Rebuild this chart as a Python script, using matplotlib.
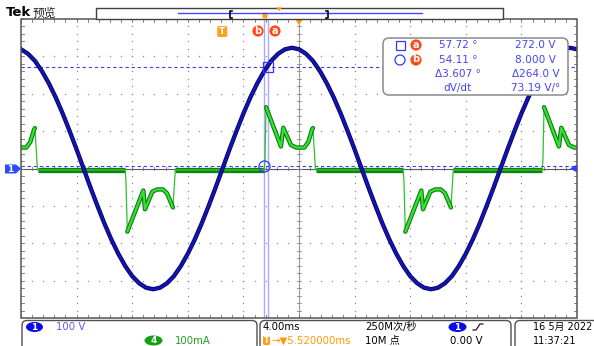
import numpy as np
import matplotlib
matplotlib.use("Agg")
import matplotlib.pyplot as plt
from matplotlib.patches import FancyBboxPatch, Rectangle, Polygon, Ellipse, Circle

plt.rcParams['font.family'] = ['DejaVu Sans', 'Noto Sans CJK SC']

# ---------------- data (read from the screen) ----------------
# channel 1 voltage samples every 0.5 ms, from -20 ms to +20 ms
t_ms = np.linspace(-20, 20, 81)
ch1_volts = [319, 307, 288, 261, 228, 190, 147, 100, 51, 0,
             -51, -100, -147, -190, -228, -261, -288, -307, -319, -323,
             -319, -307, -288, -261, -228, -190, -147, -100, -51, 0,
             51, 100, 147, 190, 228, 261, 288, 307, 319, 323,
             319, 307, 288, 261, 228, 190, 147, 100, 51, 0,
             -51, -100, -147, -190, -228, -261, -288, -307, -319, -323,
             -319, -307, -288, -261, -228, -190, -147, -100, -51, 0,
             51, 100, 147, 190, 228, 261, 288, 307, 319, 323,
             319]
# channel 4 current pulses (time from pulse start in ms, current in mA)
pos_pulse_dt = [0, 0.05, 0.13, 1.2, 1.37, 1.92, 2.3, 2.88, 3.17, 3.43, 3.5, 3.68, 3.72]
pos_pulse_mA = [0, 30, 168, 63, 113, 67, 60, 60, 75, 107, 112, 5, 0]
neg_pulse_dt = [0, 0.05, 0.15, 1.3, 1.42, 1.95, 2.3, 2.7, 3.0, 3.43, 3.6]
neg_pulse_mA = [0, -30, -165, -55, -105, -58, -52, -52, -62, -100, 0]
pos_starts_ms = [-22.5, -2.5, 17.5]
neg_starts_ms = [-12.5, 7.5]

ch1_scale_V = 100.0      # V/div
ch4_scale_mA = 100.0     # mA/div
ch4_offset_div = -0.04
trig_pos_ms = -5.52
cursor_a_ms, cursor_b_ms = -2.25, -2.514
cursor_a_V, cursor_b_V = 272.0, 8.0

meas_rows = [("57.72 °", "272.0 V"), ("54.11 °", "8.000 V"),
             ("Δ3.607 °", "Δ264.0 V"), ("dV/dt", "73.19 V/°")]

# ---------------- figure ----------------
W, H = 594, 346
fig = plt.figure(figsize=(W / 100, H / 100), dpi=100)
fig.patch.set_facecolor('white')

L, R, T, B = 21, 577, 19, 318
ax = fig.add_axes([L / W, (H - B) / H, (R - L) / W, (B - T) / H], zorder=1)
ax.set_xlim(-20, 20)
ax.set_ylim(-4, 4)
ax.axis('off')

grid_c = '#8c8c8c'
# dotted graticule
for k in range(-4, 5):
    if k == 0:
        continue
    xs = np.full(41, k * 4.0)
    ys = np.linspace(-4, 4, 41)
    ax.plot(xs, ys, ls='none', marker='s', ms=0.9, mew=0, color=grid_c)
for k in range(-3, 4):
    if k == 0:
        continue
    xs = np.linspace(-20, 20, 51)
    ax.plot(xs, np.full(51, float(k)), ls='none', marker='s', ms=0.9, mew=0, color=grid_c)
# center cross with ticks
ax.plot([-20, 20], [0, 0], color='#5a5a5a', lw=0.8)
ax.plot([0, 0], [-4, 4], color='#9a9a9a', lw=0.8)
for yv in np.linspace(-4, 4, 41):
    ax.plot([-0.14, 0.14], [yv, yv], color='#8a8a8a', lw=0.6)
    ax.plot([-20, -19.8], [yv, yv], color='#707070', lw=0.6)
    ax.plot([19.8, 20], [yv, yv], color='#707070', lw=0.6)
for xv in np.linspace(-20, 20, 51):
    ax.plot([xv, xv], [-0.05, 0.05], color='#707070', lw=0.6)
    ax.plot([xv, xv], [3.93, 4], color='#707070', lw=0.6)
    ax.plot([xv, xv], [-4, -3.93], color='#707070', lw=0.6)

# cursor lines
for cx in (cursor_a_ms, cursor_b_ms):
    ax.plot([cx, cx], [-4, 4], color='#a8a8ff', lw=1.0, zorder=3)
for cy in (cursor_a_V, cursor_b_V):
    ax.plot([-20, 20], [cy / ch1_scale_V] * 2, color='#3c3cff', lw=0.8,
            dashes=(3, 2.5), zorder=3)

# channel 4 trace
events = sorted([(s, 'p') for s in pos_starts_ms] + [(s, 'n') for s in neg_starts_ms])
full_t, full_y = [], []
bodies = []
ends = []
for s, kind in events:
    dt = pos_pulse_dt if kind == 'p' else neg_pulse_dt
    mA = pos_pulse_mA if kind == 'p' else neg_pulse_mA
    tt = [s + d for d in dt]
    yy = [m / ch4_scale_mA + ch4_offset_div for m in mA]
    full_t += tt
    full_y += yy
    hi = -3 if kind == 'p' else -2
    bodies.append((tt[2:len(tt) + hi + 1], yy[2:len(yy) + hi + 1]))
    ends.append((tt[0], tt[-1]))
# flat segments
for i in range(len(ends) - 1):
    a0 = ends[i][1]
    b0 = ends[i + 1][0]
    ax.plot([a0, b0], [ch4_offset_div] * 2, color='#0f820f', lw=3.8, zorder=4,
            solid_capstyle='butt')
    ax.plot([a0, b0], [ch4_offset_div] * 2, color='#1c9c1c', lw=1.4, zorder=4,
            solid_capstyle='butt')
ax.plot(full_t, full_y, color='#2ec02e', lw=0.9, zorder=4)
for bt, by in bodies:
    ax.plot(bt, by, color='#0d7d0d', lw=3.2, zorder=4, solid_joinstyle='round',
            solid_capstyle='round')
    ax.plot(bt, by, color='#36e036', lw=1.6, zorder=4, solid_joinstyle='round',
            solid_capstyle='round')

# channel 1 trace
v_div = np.array(ch1_volts) / ch1_scale_V
ax.plot(t_ms, v_div, color='#00006e', lw=3.1, zorder=5, solid_joinstyle='round')
ax.plot(t_ms, v_div, color='#1414a8', lw=2.0, zorder=5, solid_joinstyle='round')

# cursor markers
ax.plot([cursor_a_ms], [cursor_a_V / ch1_scale_V], marker='s', ms=7, mfc='none',
        mec='#3434ff', mew=0.9, zorder=6)
ax.plot([cursor_b_ms], [cursor_b_V / ch1_scale_V], marker='o', ms=8, mfc='none',
        mec='#3434ff', mew=0.9, zorder=6)

# ---------------- overlay (screen annotations) ----------------
ov = fig.add_axes([0, 0, 1, 1], zorder=5)
ov.set_xlim(0, W)
ov.set_ylim(H, 0)
ov.axis('off')
ov.patch.set_alpha(0)

# frame
ov.add_patch(Rectangle((L, T), R - L, B - T, fill=False, ec='#555555', lw=1.1))

# trigger marker at top
ov.add_patch(Polygon([[295, 19], [303, 19], [299, 25]], closed=True, fc='#ff9a00', ec='none'))

# Tek header
ov.text(6, 13, 'Tek', fontsize=9.5, fontweight='bold', va='center', ha='left', color='black')
ov.text(33, 13.5, '预览', fontsize=8.5, va='center', ha='left', color='#222222')

# record view box
ov.add_patch(Rectangle((96, 8), 407, 11, fc='white', ec='#404040', lw=1))
ov.plot([178, 422], [13.3, 13.3], color='#4646ff', lw=1)
ov.plot([232, 230, 230, 232], [11, 11, 18, 18], color='black', lw=1.2)
ov.plot([326, 328, 328, 326], [11, 11, 18, 18], color='black', lw=1.2)
ov.add_patch(FancyBboxPatch((262.5, 12.5), 5, 6, boxstyle='round,pad=0,rounding_size=1.2',
                            fc='#ffa020', ec='none'))
ov.add_patch(Polygon([[276, 7.5], [282, 7.5], [279, 11]], closed=True, fc='#ff9a00', ec='none'))

# trigger + cursor labels
def tx(ms):
    return L + (ms + 20) / 40 * (R - L)

ov.add_patch(FancyBboxPatch((tx(trig_pos_ms) - 5, 26), 10, 11,
                            boxstyle='round,pad=0,rounding_size=2', fc='#ffa020', ec='none'))
ov.text(tx(trig_pos_ms), 31.5, 'T', fontsize=6.5, fontweight='bold', color='white',
        ha='center', va='center')
for lab, xx in (('b', 258), ('a', 275)):
    ov.add_patch(Circle((xx, 31), 5.6, fc='#ff4a18', ec='none'))
    ov.text(xx, 30.5, lab, fontsize=7, fontweight='bold', color='white', ha='center', va='center')

# right-edge trigger level marker
ov.add_patch(Polygon([[570, 168.5], [577, 164.5], [577, 172.5]], closed=True, fc='#3c3cff', ec='none'))
# left ch1 marker
ov.add_patch(Polygon([[5, 164.5], [16, 164.5], [21, 168.5], [16, 173.5], [5, 173.5]],
                     closed=True, fc='#2a4cff', ec='none'))
ov.text(10.5, 169, '1', fontsize=6.5, fontweight='bold', color='white', ha='center', va='center')

# measurement box
ov.add_patch(FancyBboxPatch((383, 38), 185, 57, boxstyle='round,pad=0,rounding_size=6',
                            fc='white', ec='#8a8a8a', lw=1.1))
mcol = '#4646f4'
row_y = [45, 60, 74, 88]
for (lt, rt), yy in zip(meas_rows, row_y):
    ov.text(458, yy, lt, fontsize=7.6, color=mcol, ha='center', va='center')
    ov.text(535.5, yy, rt, fontsize=7.6, color=mcol, ha='center', va='center')
ov.add_patch(Rectangle((395.5, 40.5), 9, 9, fill=False, ec='#3434ff', lw=0.9))
ov.add_patch(Circle((400, 60), 5, fill=False, ec='#3434ff', lw=0.9))
for lab, yy in (('a', 45), ('b', 60)):
    ov.add_patch(Circle((416, yy), 5.6, fc='#ff4a18', ec='none'))
    ov.text(416, yy - 0.5, lab, fontsize=7, fontweight='bold', color='white', ha='center', va='center')

# status bar
for x0, w in ((22, 235), (260, 251), (515, 100)):
    ov.add_patch(FancyBboxPatch((x0, 320.5), w, 40, boxstyle='round,pad=0,rounding_size=5',
                                fc='white', ec='#505050', lw=1))
ov.add_patch(Ellipse((34.5, 327), 17, 10, fc='#0a0ae6', ec='none'))
ov.text(34.5, 327, '1', fontsize=6.5, fontweight='bold', color='white', ha='center', va='center')
ov.text(56, 327, '100 V', fontsize=7.3, color='#5a5aff', ha='left', va='center')
ov.add_patch(Ellipse((153.5, 340.5), 18, 10, fc='#14a014', ec='none'))
ov.text(153.5, 340.5, '4', fontsize=6.5, fontweight='bold', color='white', ha='center', va='center')
ov.text(175, 340.5, '100mA', fontsize=7.3, color='#22a022', ha='left', va='center')
ov.text(263, 327, '4.00ms', fontsize=7.3, color='black', ha='left', va='center')
ov.add_patch(FancyBboxPatch((263, 336), 7, 9, boxstyle='round,pad=0,rounding_size=1.5',
                            fc='#ffa020', ec='none'))
ov.text(266.5, 340.5, 'T', fontsize=5.5, fontweight='bold', color='white', ha='center', va='center')
ov.text(271, 340.5, '→▼5.520000ms', fontsize=7.3, color='#ff9a00', ha='left', va='center')
ov.text(365, 327, '250M次/秒', fontsize=7.3, color='black', ha='left', va='center')
ov.text(365, 340.5, '10M 点', fontsize=7.3, color='black', ha='left', va='center')
ov.add_patch(Ellipse((457.5, 327), 18, 10, fc='#0a0ae6', ec='none'))
ov.text(457.5, 327, '1', fontsize=6.5, fontweight='bold', color='white', ha='center', va='center')
ov.plot([473, 476, 480, 483], [330, 330, 324, 324], color='black', lw=0.8)
ov.text(483, 340.5, '0.00 V', fontsize=7.3, color='black', ha='right', va='center')
ov.text(533, 327, '16 5月 2022', fontsize=7.0, color='black', ha='left', va='center')
ov.text(533, 340.5, '11:37:21', fontsize=7.0, color='black', ha='left', va='center')

fig.savefig('out.png', dpi=100, facecolor='white')
